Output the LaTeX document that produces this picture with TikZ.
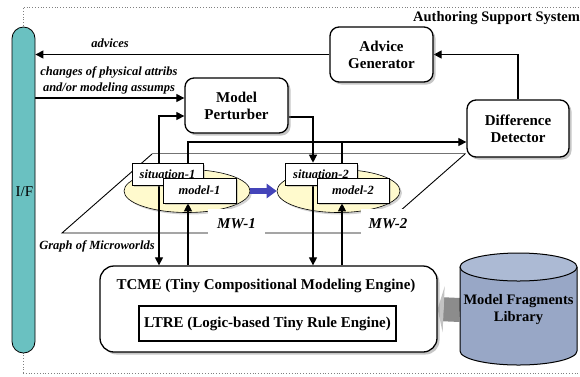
\documentclass[tikz,border=0pt]{standalone}
\usepackage{fontspec}
\setmainfont{Liberation Serif}
\usetikzlibrary{arrows.meta,shadows,shapes.geometric}
\definecolor{ifteal}{RGB}{106,193,193}
\definecolor{mwyel}{RGB}{255,250,205}
\definecolor{cylbody}{RGB}{152,167,198}
\definecolor{cyltop}{RGB}{172,186,212}
\definecolor{bluearr}{RGB}{68,68,185}
\definecolor{fatgray}{RGB}{140,140,140}
\definecolor{headgray}{RGB}{195,195,195}
\definecolor{planegray}{RGB}{115,115,115}
\pgfdeclarelayer{bg}
\pgfdeclarelayer{mid}
\pgfsetlayers{bg,mid,main}
\begin{document}
\begin{tikzpicture}[x=1pt,y=-1pt,
  rbox/.style={draw, line width=1.3pt, rounded corners=9pt, fill=white, align=center, inner sep=0pt,
    font=\bfseries\fontsize{15}{17}\selectfont,
    drop shadow={shadow xshift=2.5pt, shadow yshift=-2.5pt, opacity=0.45}},
  sbox/.style={draw, line width=0.6pt, fill=white, inner sep=0pt,
    font=\bfseries\itshape\fontsize{12.5}{14}\selectfont,
    drop shadow={shadow xshift=2pt, shadow yshift=-2pt, opacity=0.35}},
  conn/.style={line width=1.2pt},
  arr/.style={conn, -{Triangle[length=8pt,width=8pt]}},
  lab/.style={font=\bfseries\itshape\fontsize{12.5}{16}\selectfont, inner sep=0pt},
  mwlab/.style={fill=white, inner sep=0pt, font=\bfseries\itshape\fontsize{15}{17}\selectfont},
  bold15/.style={font=\bfseries\fontsize{15}{17}\selectfont, inner sep=0pt}
]
\useasboundingbox (0,0) rectangle (580,376);

% border
\begin{pgfonlayer}{bg}
\draw[dotted, line width=0.8pt, gray] (23,373) -- (23,7) -- (582,7);
\draw[dotted, line width=0.8pt, gray] (23,373) -- (582,373);
% graph of microworlds plane
\draw[line width=1.3pt, planegray] (152,153.5) -- (466,153.5);
\draw[line width=0.9pt] (152,154) -- (62,233) -- (375,233) -- (465,154);
% microworld ellipses
\node[draw, line width=0.6pt, fill=mwyel, ellipse, minimum width=126pt, minimum height=43pt,
  drop shadow={shadow xshift=2pt, shadow yshift=-2pt, opacity=0.35}] (mw1e) at (187,191) {};
\node[draw, line width=0.6pt, fill=mwyel, ellipse, minimum width=123pt, minimum height=43pt,
  drop shadow={shadow xshift=2pt, shadow yshift=-2pt, opacity=0.35}] (mw2e) at (338.5,191) {};
\end{pgfonlayer}

% I/F bar
\node[draw, line width=0.8pt, fill=ifteal, rounded corners=11.5pt, minimum width=23pt,
  minimum height=326pt, inner sep=0pt] (IF) at (23.5,190) {};
\node[font=\fontsize{15}{17}\selectfont, inner sep=0pt] (iflab) at (24.5,192) {I/F};

% main boxes
\node[rbox, minimum width=103pt, minimum height=55pt] (adv) at (381.5,54.5) {Advice\\Generator};
\node[rbox, minimum width=103pt, minimum height=55pt] (pert) at (236.5,105.5) {Model\\Perturber};
\node[rbox, minimum width=102pt, minimum height=57pt] (diff) at (518,128.5) {Difference\\Detector};
\node[rbox, rounded corners=14pt, minimum width=337pt, minimum height=86pt] (tcme) at (268.5,309) {};
\node[bold15] (tcmet) at (266,286) {TCME (Tiny Compositional Modeling Engine)};
\node[draw, line width=1.3pt, minimum width=257pt, minimum height=35pt, inner sep=0pt,
  font=\bfseries\fontsize{15}{17}\selectfont] (ltre) at (267.5,323.5) {LTRE (Logic-based Tiny Rule Engine)};

% situation / model boxes
\node[sbox, minimum width=71pt, minimum height=22pt] (sit1) at (167.5,174) {situation-1};
\node[sbox, minimum width=73pt, minimum height=25pt] (mod1) at (199.5,190.5) {model-1};
\node[sbox, minimum width=72pt, minimum height=22pt] (sit2) at (321,174) {situation-2};
\node[sbox, minimum width=72pt, minimum height=25pt] (mod2) at (353,190.5) {model-2};

% MW labels
\node[mwlab, minimum width=57pt, minimum height=30pt] (mw1l) at (236.5,224) {MW-1};
\node[mwlab, minimum width=55pt, minimum height=30pt] (mw2l) at (388,224) {MW-2};

% cylinder
\fill[cylbody] (460,267) -- (460,351) arc[start angle=180, end angle=360, x radius=58.5pt, y radius=14pt] -- (577,267) -- cycle;
\draw[line width=1pt] (460,267) -- (460,351) arc[start angle=180, end angle=360, x radius=58.5pt, y radius=14pt] -- (577,267);
\draw[line width=1pt, fill=cyltop] (518.5,267) ellipse[x radius=58.5pt, y radius=14pt];
\node[align=center, minimum width=117pt, minimum height=112pt, inner sep=0pt,
  font=\bfseries\fontsize{14.5}{17}\selectfont] (lib) at (518.5,310) {Model Fragments\\Library};

% texts
\node[lab] (advl) at (110,43) {advices};
\node[lab, align=center] (chl) at (109,80) {changes of physical attribs\\and/or modeling assumps};
\node[lab] (gml) at (97,246) {Graph of Microworlds};
\node[font=\bfseries\fontsize{14.5}{16}\selectfont, anchor=west, inner sep=0pt] (asl) at (413,18) {Authoring Support System};

% connection points
\coordinate (pA) at ([yshift=7.5pt]pert.west);
\coordinate (pB) at ([yshift=-10.5pt]pert.west);
\coordinate (pC) at ([yshift=-11.5pt]pert.east);
\coordinate (dA) at ([yshift=-13.5pt]diff.west);
\coordinate (s1n) at ([xshift=-8.5pt]sit1.north);
\coordinate (s1s) at ([xshift=-8.5pt]sit1.south);
\coordinate (m1n) at ([xshift=-11.5pt]mod1.north);
\coordinate (m1s) at ([xshift=-11.5pt]mod1.south);
\coordinate (s2n) at ([xshift=-8pt]sit2.north);
\coordinate (s2s) at ([xshift=-8pt]sit2.south);
\coordinate (m2n) at ([xshift=-11pt]mod2.north);
\coordinate (m2s) at ([xshift=-11pt]mod2.south);

\begin{pgfonlayer}{bg}
\draw[line width=24pt, draw=fatgray, -{Triangle[length=6pt, width=46pt, color=headgray]}] (lib.west) -- (tcme.east);
\end{pgfonlayer}

\begin{pgfonlayer}{mid}
\draw[arr] (adv.west) -- (adv.west -| IF.east);
\draw[arr] (pA -| IF.east) -- (pA);
\draw[arr] (diff.north) |- (adv.east);
\draw[arr] (s1n) |- (pB);
\draw[arr] (s1s) -- (s1s |- tcme.north);
\draw[arr] (m1n) |- (dA);
\draw[arr] (m1s |- tcme.north) -- (m1s);
\draw[arr] (pC) -| (s2n);
\draw[arr] (s2s) -- (s2s |- tcme.north);
\draw[conn] (m2n) -- (m2n |- dA);
\draw[arr] (m2s |- tcme.north) -- (m2s);
\draw[line width=6pt, bluearr, -{Triangle[length=10pt, width=14pt]}] (mw1e.east) -- (mw2e.west);
\end{pgfonlayer}
\end{tikzpicture}
\end{document}
